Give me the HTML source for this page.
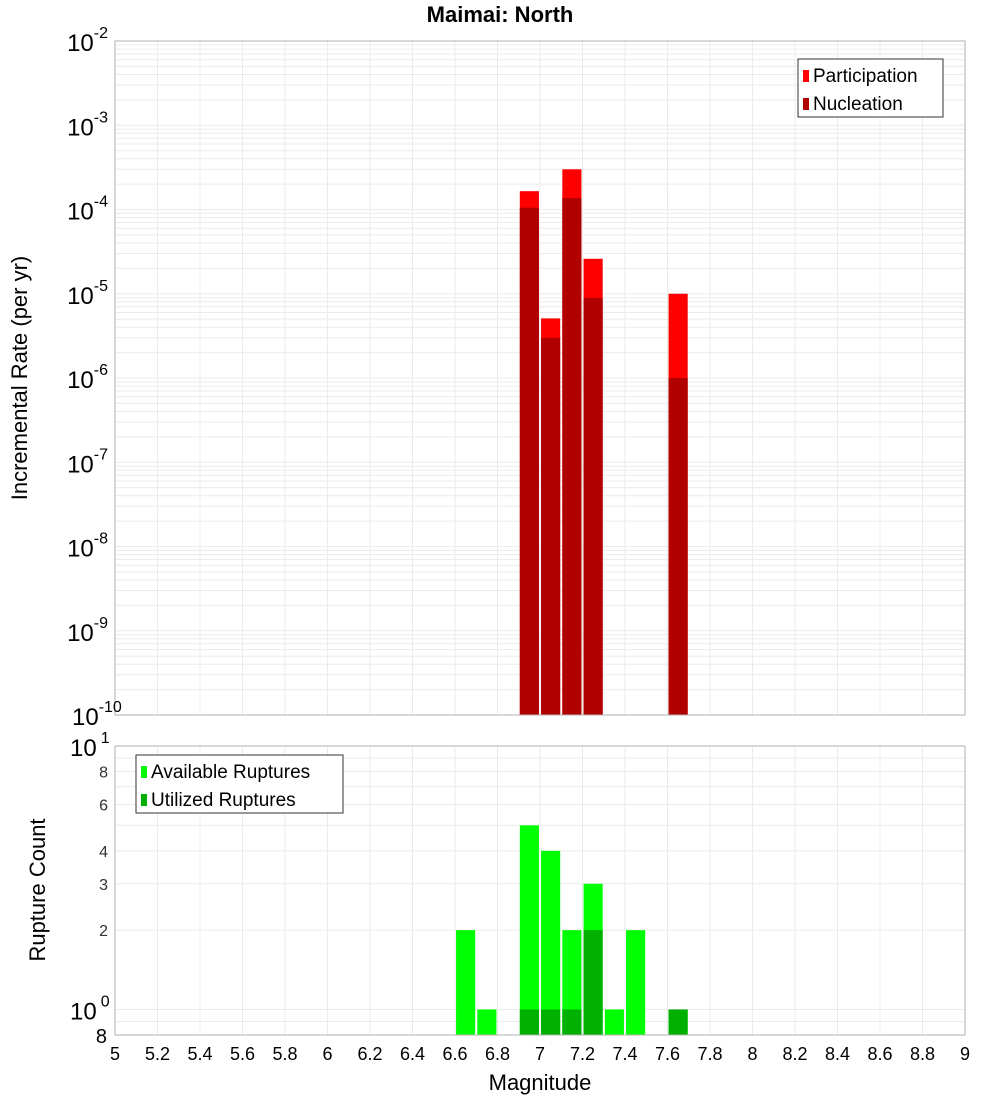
<!DOCTYPE html>
<html><head><meta charset="utf-8"><style>
body{margin:0;background:#fff;}
svg{display:block;font-family:"Liberation Sans","DejaVu Sans",sans-serif;}
</style></head><body>
<svg id="c" width="1000" height="1100"></svg>
<script>
const binCenters=[6.95,7.05,7.15,7.25,7.65];
const participation=[1.65e-4,5.1e-6,3.0e-4,2.6e-5,1.0e-5];
const nucleation=[1.05e-4,3.0e-6,1.37e-4,8.9e-6,1.0e-6];
const availMags=[6.65,6.75,6.95,7.05,7.15,7.25,7.35,7.45,7.65];
const availCounts=[2,1,5,4,2,3,1,2,1];
const utilMags=[6.95,7.05,7.15,7.25,7.65];
const utilCounts=[1,1,1,2,1];
const xTicks=[5,5.2,5.4,5.6,5.8,6,6.2,6.4,6.6,6.8,7,7.2,7.4,7.6,7.8,8,8.2,8.4,8.6,8.8,9];
const topExps=[-2,-3,-4,-5,-6,-7,-8,-9,-10];
const botTicks=[8,6,4,3,2];

const NS="http://www.w3.org/2000/svg";
const svg=document.getElementById('c');
function el(t,a,p){const e=document.createElementNS(NS,t);for(const k in a)e.setAttribute(k,a[k]);(p||svg).appendChild(e);return e;}
const X0=115,X1=965;
const xs=m=>X0+(m-5)/4*(X1-X0);
const T0=41,T1=715;
const yT=v=>T0+(-2-Math.log10(v))/8*(T1-T0);
const B0=746,B1=1035;
const yB=v=>B0+(1-Math.log10(v))/(1-Math.log10(0.8))*(B1-B0);
const bw=0.09;

// title
let t=el('text',{x:500,y:22,'text-anchor':'middle','font-size':22,'font-weight':'bold',fill:'#000'});
t.textContent='Maimai: North';



// grids
const gTop=el('g',{});


for(let d=-10;d<-2;d++)for(let k=1;k<10;k++){const y=yT(k*Math.pow(10,d));el('line',{x1:X0,x2:X1,y1:y,y2:y,stroke:'#ebebeb','stroke-width':1},gTop);}
const gBot=el('g',{});


for(const v of [0.8,0.9,1,2,3,4,5,6,7,8,9,10]){const y=yB(v);el('line',{x1:X0,x2:X1,y1:y,y2:y,stroke:'#ebebeb','stroke-width':1},gBot);}
for(const m of xTicks){const x=xs(m);el('line',{x1:x,x2:x,y1:T0,y2:T1,stroke:'#ebebeb'},gTop);el('line',{x1:x,x2:x,y1:B0,y2:B1,stroke:'#ebebeb'},gBot);}

// top bars
binCenters.forEach((m,i)=>{
 const x=xs(m-bw/2),w=xs(m+bw/2)-x;
 let r=el('rect',{x:x,y:yT(participation[i]),width:w,height:T1-yT(participation[i]),fill:'#ff0000'});
 
 
 r=el('rect',{x:x,y:yT(nucleation[i]),width:w,height:T1-yT(nucleation[i]),fill:'#b00000'});
 
 
});
// bottom bars
availMags.forEach((m,i)=>{
 const x=xs(m-bw/2),w=xs(m+bw/2)-x;
 const r=el('rect',{x:x,y:yB(availCounts[i]),width:w,height:B1-yB(availCounts[i]),fill:'#00ff00'});
 
 
});
utilMags.forEach((m,i)=>{
 const x=xs(m-bw/2),w=xs(m+bw/2)-x;
 const r=el('rect',{x:x,y:yB(utilCounts[i]),width:w,height:B1-yB(utilCounts[i]),fill:'#00b000'});
 
 
});

// frames
let f=el('rect',{x:X0,y:T0,width:X1-X0,height:T1-T0,fill:'none',stroke:'#b0b0b0'});


f=el('rect',{x:X0,y:B0,width:X1-X0,height:B1-B0,fill:'none',stroke:'#b0b0b0'});



// top y tick labels
topExps.forEach(e=>{
 const y=yT(Math.pow(10,e));
 const tx=el('text',{x:108,y:y+10,'text-anchor':'end','font-size':24,fill:'#000'});
 
 
 tx.appendChild(document.createTextNode('10'));
 const s=el('tspan',{dy:-13,'font-size':16},tx);s.textContent=String(e);
 if(e===-10){tx.setAttribute('x',72);tx.setAttribute('text-anchor','start');}
});
// bottom y labels
[[10,'10','1'],[1,'10','0']].forEach(([v,b,e])=>{
 const tx=el('text',{x:70,y:yB(v)+10,'font-size':24,fill:'#000'});
 
 
 tx.appendChild(document.createTextNode(b));
 const s=el('tspan',{dx:4,dy:-13,'font-size':16},tx);s.textContent=e;
});
botTicks.forEach(v=>{
 const tx=el('text',{x:108,y:yB(v)+6,'text-anchor':'end','font-size':16,fill:'#333'});
 tx.textContent=String(v);
 
 
});
let b8=el('text',{x:107,y:B1+8,'text-anchor':'end','font-size':20,fill:'#000'});
b8.textContent='8';



// x ticks
xTicks.forEach(m=>{
 const tx=el('text',{x:xs(m),y:1060,'text-anchor':'middle','font-size':18,fill:'#000'});
 tx.textContent=String(m);
 
 
});
t=el('text',{x:540,y:1090,'text-anchor':'middle','font-size':22,fill:'#000'});
t.textContent='Magnitude';


t=el('text',{x:0,y:0,'text-anchor':'middle','font-size':22,fill:'#000',transform:'translate(27,378) rotate(-90)'});
t.textContent='Incremental Rate (per yr)';


t=el('text',{x:0,y:0,'text-anchor':'middle','font-size':22,fill:'#000',transform:'translate(45,890) rotate(-90)'});
t.textContent='Rupture Count';



// legends
function legend(x,y,w,items,name){
 const g=el('g',{});
 
 
 el('rect',{x:x,y:y,width:w,height:58,fill:'#fff',stroke:'#333'},g);
 items.forEach(([c,l],i)=>{
  el('rect',{x:x+5,y:y+11+i*28,width:6,height:12,fill:c},g);
  const tx=el('text',{x:x+15,y:y+23+i*28,'font-size':19,fill:'#000'},g);
  tx.textContent=l;
  
  
 });
}
legend(798,59,145,[['#ff0000','Participation'],['#b00000','Nucleation']],'top-legend');
legend(136,755,207,[['#00ff00','Available Ruptures'],['#00b000','Utilized Ruptures']],'bottom-legend');
</script>
</body></html>
